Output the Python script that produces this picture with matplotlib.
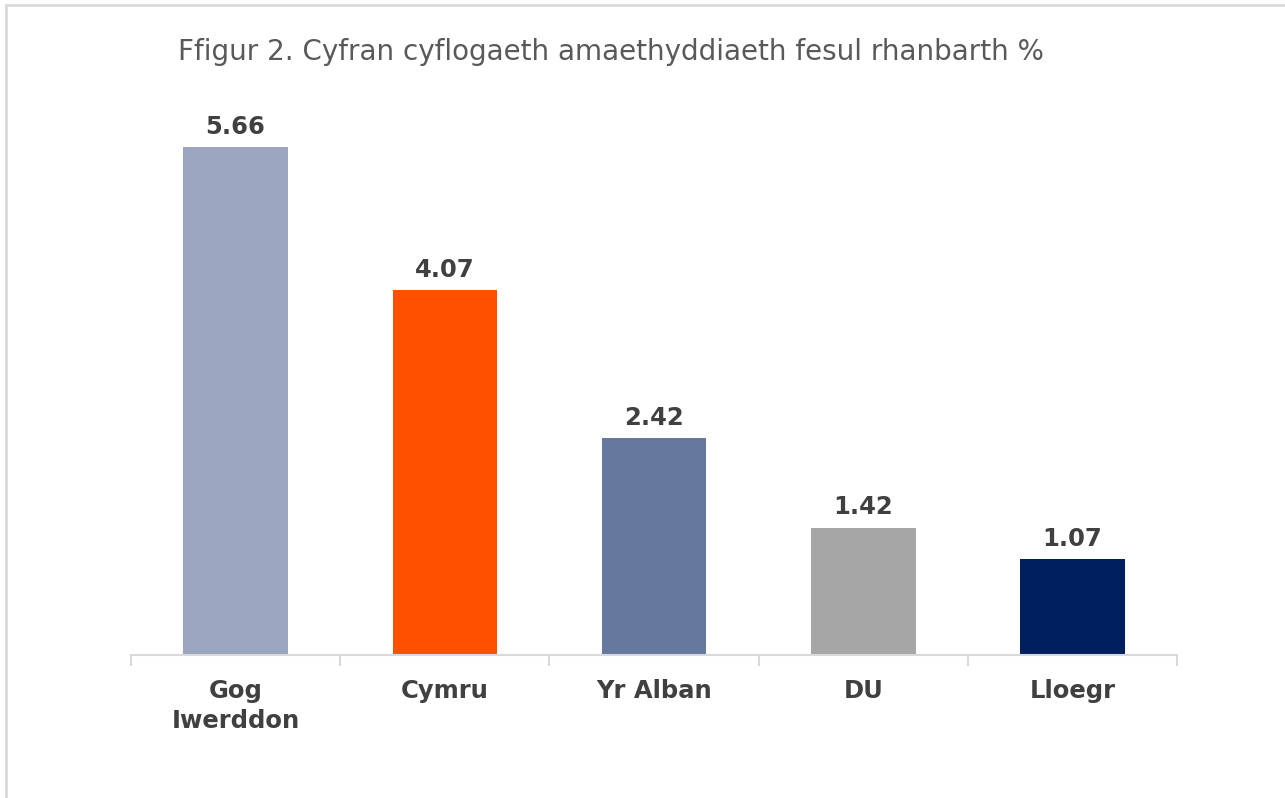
import matplotlib
matplotlib.use("Agg")
import matplotlib.pyplot as plt
from matplotlib.patches import Rectangle

categories = ["Gog\nIwerddon", "Cymru", "Yr Alban", "DU", "Lloegr"]
values = [5.66, 4.07, 2.42, 1.42, 1.07]
colors = ["#9BA5C0", "#FF5000", "#67789F", "#A6A6A6", "#001F5F"]
title = "Ffigur 2. Cyfran cyflogaeth amaethyddiaeth fesul rhanbarth %"

W, H = 1285, 798
fig = plt.figure(figsize=(W / 100, H / 100), dpi=100)
plt.rcParams['font.family'] = ['DejaVu Sans']

# outer light border
fig.patches.append(Rectangle((6 / W, -0.1), 1.2, 1 - 5 / H + 0.1, transform=fig.transFigure,
                             fill=False, edgecolor="#D9D9D9", linewidth=2))

ax = fig.add_axes([131 / W, 1 - 655 / H, (1177 - 131) / W, (655 - 72) / H])
x = range(len(categories))
bars = ax.bar(x, values, width=0.5, color=colors)
ax.set_xlim(-0.5, len(categories) - 0.5)
ax.set_ylim(0, 6.5)
for b, v in zip(bars, values):
    ax.annotate(f"{v:.2f}", (b.get_x() + b.get_width() / 2, v), xytext=(0, 6),
                textcoords="offset points", ha="center", va="bottom",
                fontsize=17.5, fontweight="bold", color="#404040")

for s in ["top", "right", "left"]:
    ax.spines[s].set_visible(False)
ax.spines["bottom"].set_color("#D9D9D9")
ax.spines["bottom"].set_linewidth(1.5)
ax.set_yticks([])
ax.set_xticks([i - 0.5 for i in range(len(categories) + 1)], minor=False)
ax.set_xticklabels([])
ax.tick_params(axis="x", which="major", length=8, width=1.5, color="#D9D9D9")
ax.set_xticks(list(x), minor=True)
ax.set_xticklabels(categories, minor=True, fontsize=17.5, fontweight="bold", color="#404040",
                   linespacing=1.35)
ax.tick_params(axis="x", which="minor", length=0, pad=17)

fig.text(178 / W, 1 - 52 / H, title, ha="left", va="center", fontsize=20, color="#595959")

fig.savefig("out.png", dpi=100, facecolor="white")
